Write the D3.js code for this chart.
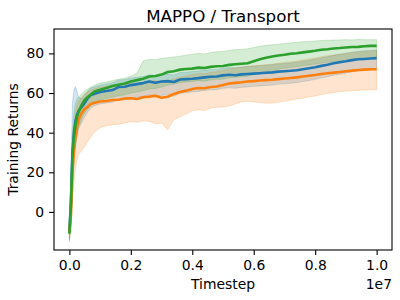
<!DOCTYPE html>
<html>
<head>
<meta charset="utf-8">
<script src="https://cdn.jsdelivr.net/npm/d3@7"></script>
<style>
  body { margin: 0; background: #fff; }
  svg text { font-family: "DejaVu Sans", sans-serif; fill: #000; }
</style>
</head>
<body>
<svg id="chart" width="400" height="300"></svg>
<script>
// Timesteps (in units of 1e6)
const timesteps = [0,0.05,0.1,0.15,0.2,0.25,0.3,0.4,0.5,0.6,0.7,0.8,0.9,1.0,
  1.2,1.4,1.6,1.8,2.0,2.2,2.4,2.6,2.8,3.0,3.2,3.4,3.6,3.8,4.0,4.2,4.4,4.6,4.8,5.0,
  5.2,5.4,5.6,5.8,6.0,6.2,6.4,6.6,6.8,7.0,7.2,7.4,7.6,7.8,8.0,8.2,8.4,8.6,8.8,9.0,
  9.2,9.4,9.6,9.8,10.0];

const blueMean = [-10,5,30,40,46,49,51,53,55,57.5,59,59.5,60,60.5,
  61,61.5,63,63.2,64,64.5,65,65.8,65.2,65.8,66,65.6,66.8,67,67.2,67.5,67.9,68.2,68.3,68.9,
  69.2,69.0,69.4,69.6,69.8,70.0,70.2,70.4,70.8,71.0,71.2,71.5,72.0,72.5,73.0,73.7,74.3,75.0,75.5,76.0,
  76.6,77.0,77.2,77.4,77.6];
const blueUpper = [-8,20,55,62,63,61,58,57,59,61,62.5,63,63.5,64,
  64.5,65.2,66.5,66.8,67.5,68,68.3,69.2,68.8,69.3,69.6,69.1,70.3,70.5,70.8,71.1,71.5,71.8,71.9,72.5,
  72.9,72.7,73.1,73.4,73.6,73.8,74.0,74.3,74.7,74.9,75.1,75.5,76.0,76.5,77.0,77.7,78.3,79.0,79.5,80.0,
  80.6,81.0,81.3,81.5,81.7];
const blueLower = [-14,-6,12,25,33,38,42,45,48,50.5,52.5,53.5,54,54.5,
  55,55.3,56.8,56.5,57.5,58,58.3,59.1,58.2,58.8,59.2,58.4,59.8,60.2,60.5,60.8,61.3,61.6,61.7,62.4,
  62.6,62.4,62.9,63.1,63.4,63.6,63.8,64.0,64.5,64.7,64.9,65.2,65.8,66.3,66.9,67.6,68.2,69.0,69.5,70.0,
  70.7,71.1,71.4,71.6,71.8];

const orangeMean = [-10,-2,20,31,38,43,46.5,50,52,53,54.5,55,55.3,55.7,
  56.0,56.5,56.6,57.2,57.4,57.0,57.9,58.2,58.6,57.6,58.1,59.5,60.5,61.2,62.0,62.5,62.4,63.0,63.3,64.0,
  64.8,65.1,65.4,65.8,66.0,66.3,66.5,66.7,67.0,67.3,67.6,67.9,68.3,68.7,69.1,69.6,70.0,70.3,70.6,71.0,
  71.3,71.6,71.8,72.0,72.0];
const orangeUpper = [-8,5,32,44,50,54,56,58,59.5,60.5,61.5,62,62.5,63,
  63.3,63.8,64.2,64.8,65.0,64.8,65.6,66.0,66.4,65.5,66.0,67.2,68.0,68.6,69.3,69.8,69.8,70.4,70.8,71.5,
  72.2,72.6,73.0,73.4,73.7,74.0,74.3,74.6,75.0,75.4,75.8,76.2,76.7,77.2,77.7,78.3,78.8,79.2,79.6,80.0,
  80.4,80.7,81.0,81.2,81.3];
const orangeLower = [-14,-10,5,15,22,26,29,31,33,35.5,38,40,41.5,42.5,
  43.5,44,44.2,44.8,45.6,45.2,46,45.6,44.5,44.8,41.5,46.5,48,49.5,51,51.5,51.2,52.3,52.8,53,
  53.4,54.5,55.5,55.7,55.5,55.2,54.9,54.9,55.3,55.8,56.4,57,57.4,58,58.5,59.2,59.8,60.2,60.6,61,
  61.2,61.4,61.5,61.6,61.6];

const greenMean = [-11,3,28,38,44,48,50.5,54,56.5,58,59.2,60.5,61.2,61.6,
  62.5,63.5,64.2,64.8,65.8,66.5,67.2,68.3,68.6,69.3,70.6,71.0,71.8,72.1,72.3,72.8,72.6,73.2,73.5,73.6,
  74.2,74.5,74.8,75.0,76.0,77.0,77.8,78.4,78.9,79.3,79.8,80.1,80.5,80.9,81.3,81.8,82.1,82.5,82.7,83.0,
  83.2,83.3,83.6,83.8,83.8];
const greenUpper = [-9,10,40,50,55,57,58,59.5,61,62,63,63.8,64.5,65,
  65.5,66.3,67,67.5,68.5,70,76.2,77,76.8,77.5,77.8,78.2,78.6,79.1,79.6,80.0,79.7,80.4,80.8,81.0,
  81.5,81.9,82.0,82.3,83.0,83.6,84.1,84.3,84.6,85.0,85.3,85.6,85.9,86.0,86.2,86.5,86.6,86.7,86.8,86.9,
  86.8,87.0,86.9,86.9,86.9];
const greenLower = [-15,-8,15,27,34,39,43,47,50,52,54,55,56,56.5,
  57.2,58,58.6,59.1,60,60.5,61.2,62,62.3,63,64,64.5,65.2,65.6,65.8,66.2,66.0,66.6,66.9,67.0,
  67.6,67.9,68.2,68.4,69.3,70.2,71.0,71.6,72.1,72.5,73.0,73.3,73.8,74.2,74.6,75.1,75.5,75.9,76.2,76.5,
  76.8,77.1,77.3,77.6,77.8];

const xTicks = [0, 2, 4, 6, 8, 10];
const xTickLabels = ["0.0", "0.2", "0.4", "0.6", "0.8", "1.0"];
const yTicks = [0, 20, 40, 60, 80];

const seriesList = [
  { name: "blue", color: "#1f77b4", mean: blueMean, lo: blueLower, hi: blueUpper },
  { name: "orange", color: "#ff7f0e", mean: orangeMean, lo: orangeLower, hi: orangeUpper },
  { name: "green", color: "#2ca02c", mean: greenMean, lo: greenLower, hi: greenUpper }
];

const svg = d3.select("#chart");
const L = 54, R = 392, T = 29, B = 250;

const x = d3.scaleLinear().domain([-0.5, 10.5]).range([L, R]);
const y = d3.scaleLinear().domain([-19.2, 92.3]).range([B, T]);

const plot = svg.append("g");
svg.append("clipPath").attr("id", "clip").append("rect")
  .attr("x", L).attr("y", T).attr("width", R - L).attr("height", B - T);
plot.attr("clip-path", "url(#clip)");

seriesList.forEach(s => {
  const rows = timesteps.map((t, i) => ({ t, lo: s.lo[i], hi: s.hi[i] }));
  const area = d3.area().x(d => x(d.t)).y0(d => y(d.lo)).y1(d => y(d.hi));
  plot.append("path").datum(rows)
    .attr("d", area)
    .attr("fill", s.color).attr("fill-opacity", 0.2)
    .attr("stroke", s.color).attr("stroke-opacity", 0.2).attr("stroke-width", 1);
});
seriesList.forEach(s => {
  const rows = timesteps.map((t, i) => ({ t, m: s.mean[i] }));
  const line = d3.line().x(d => x(d.t)).y(d => y(d.m));
  plot.append("path").datum(rows)
    .attr("d", line)
    .attr("fill", "none").attr("stroke", s.color).attr("stroke-width", 2.6)
    .attr("stroke-linejoin", "round");
});

// Axes
const xAxis = d3.axisBottom(x).tickValues(xTicks).tickFormat((d, i) => xTickLabels[i])
  .tickSizeInner(4.9).tickSizeOuter(0).tickPadding(4.9);
const gx = svg.append("g").attr("transform", `translate(0,${B})`).call(xAxis);
const yAxis = d3.axisLeft(y).tickValues(yTicks).tickFormat(d3.format("d"))
  .tickSizeInner(4.9).tickSizeOuter(0).tickPadding(4.9);
const gy = svg.append("g").attr("transform", `translate(${L},0)`).call(yAxis);
[gx, gy].forEach(g => {
  g.select(".domain").remove();
  g.selectAll(".tick line").attr("stroke", "#000").attr("stroke-width", 1.1);
  g.selectAll(".tick text").attr("font-size", "13.9px").attr("font-family", "DejaVu Sans");
});

// Frame
svg.append("rect").attr("x", L).attr("y", T).attr("width", R - L).attr("height", B - T)
  .attr("fill", "none").attr("stroke", "#000").attr("stroke-width", 1.1);

// Texts
svg.append("text").attr("x", (L + R) / 2).attr("y", 21.5).attr("text-anchor", "middle")
  .attr("font-size", "16.7px").text("MAPPO / Transport");
svg.append("text").attr("x", (L + R) / 2).attr("y", 289).attr("text-anchor", "middle")
  .attr("font-size", "13.9px").text("Timestep");
svg.append("text").attr("transform", `translate(18,${(T + B) / 2}) rotate(-90)`)
  .attr("text-anchor", "middle").attr("font-size", "13.9px").text("Training Returns");
svg.append("text").attr("x", R).attr("y", 289).attr("text-anchor", "end")
  .attr("font-size", "13.9px").text("1e7");
</script>
</body>
</html>
